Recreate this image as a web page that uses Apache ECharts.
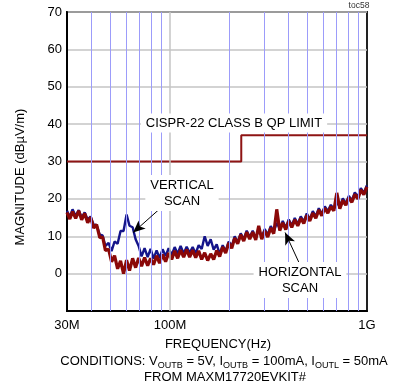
<!DOCTYPE html>
<html>
<head>
<meta charset="utf-8">
<script src="https://cdn.jsdelivr.net/npm/echarts@6/dist/echarts.min.js"></script>
<style>html,body{margin:0;padding:0;background:#fff;}#c{width:394px;height:390px;}</style>
</head>
<body>
<div id="c"></div>
<script>
// ---- data ----
const freqMHz = [30, 31, 32, 33.2, 34.4, 35.6, 36.9, 38.2, 39.5, 41, 42.4, 44, 45.5, 47, 48.8, 50.5, 52.3, 54.2, 56.1, 58.1,
  60.2, 62.3, 64.6, 66.9, 69.3, 71.7, 74.3, 77, 79.7, 82.5, 85.5, 88.5, 91.7, 95, 98.4, 102, 105.6, 109.3, 113.2, 117.3,
  121.5, 125.8, 130.3, 135, 139.8, 144.8, 150, 155.3, 160.9, 166.6, 172.6, 178.7, 185.1, 191.7, 198.6, 205.7, 213, 220.6, 228.5, 236.7,
  245.1, 253.9, 263, 272.4, 282.1, 292.2, 302.6, 313.4, 324.6, 336.2, 348.2, 360.7, 373.6, 386.9, 400.7, 415, 429.9, 445.2, 461.1, 477.6,
  494.7, 512.4, 530.7, 549.6, 569.3, 589.6, 610.7, 632.5, 655.1, 678.5, 702.7, 727.8, 753.8, 780.8, 808.7, 837.6, 867.5, 898.5, 930.6, 963.9, 998];

const verticalScan = [16.8, 15.2, 17.2, 15.4, 17.0, 15.0, 16.4, 14.4, 15.3, 13.0, 13.0, 10.4, 10.2, 7.4, 8.2, 6.0, 8.6, 8.0, 11.4, 11.4,
  15.8, 12.8, 12.4, 9.2, 7.4, 4.6, 6.8, 4.4, 6.6, 4.0, 6.2, 4.2, 6.5, 4.7, 6.8, 5.0, 7.1, 5.3, 7.4, 5.4,
  7.2, 5.6, 7.1, 5.4, 7.6, 6.6, 10.0, 7.4, 9.2, 6.4, 7.8, 5.2, 7.6, 6.0, 8.6, 7.3, 10.0, 8.4, 10.8, 9.2,
  11.5, 9.8, 11.5, 9.5, 11.8, 9.8, 11.9, 10.4, 12.7, 11.2, 13.6, 12.0, 14.1, 12.3, 14.5, 12.9, 14.9, 13.3, 15.3, 13.9,
  16.1, 14.6, 16.7, 15.3, 17.5, 16.0, 18.0, 16.7, 18.4, 17.3, 19.1, 17.9, 20.1, 18.8, 20.8, 19.6, 21.7, 20.5, 22.9, 21.6, 23.6];

const horizontalScan = [16.4, 14.6, 16.6, 14.8, 16.8, 14.4, 16.1, 13.6, 15.1, 12.2, 13.1, 9.6, 9.8, 6.2, 6.5, 3.2, 4.8, 1.3, 3.4, 0.0,
  3.6, 0.8, 4.1, 1.6, 4.2, 2.0, 4.3, 2.1, 4.1, 2.4, 4.8, 2.8, 5.1, 3.2, 5.5, 3.8, 6.1, 4.1, 6.3, 4.4,
  6.4, 4.4, 6.3, 4.3, 6.1, 3.8, 5.6, 3.5, 5.3, 3.8, 6.2, 4.6, 7.1, 5.5, 8.2, 6.8, 9.5, 8.0, 10.4, 8.7,
  11.1, 9.2, 11.1, 9.0, 12.8, 9.2, 11.4, 9.8, 12.2, 10.7, 17.2, 11.5, 13.6, 11.8, 14.0, 12.4, 14.4, 12.8, 14.8, 13.4,
  15.6, 14.1, 16.2, 14.8, 17.0, 15.5, 17.5, 16.2, 17.9, 16.8, 21.6, 17.4, 19.6, 18.3, 20.3, 19.1, 21.2, 20.0, 22.4, 21.1, 23.2];

const limitFreq = [30, 230, 230, 1000];
const limitValues = [30, 30, 37, 37];

const minorGridFreq = [40, 50, 60, 70, 80, 90, 200, 300, 400, 500, 600, 700, 800, 900];
const majorGridFreq = [100];
const xTickLabels = { 30: '30M', 100: '100M', 1000: '1G' };

// ---- chart ----
const FONT = '"Liberation Sans", Arial, sans-serif';
const pairs = (xs, ys) => xs.map((x, i) => [x, ys[i]]);

const chart = echarts.init(document.getElementById('c'), null, { renderer: 'canvas' });
chart.setOption({
  animation: false,
  backgroundColor: '#fff',
  grid: { left: 67, right: 27, top: 12, bottom: 79, show: true, borderColor: '#222', borderWidth: 2, backgroundColor: 'transparent' },
  xAxis: {
    type: 'log', logBase: 10, min: 30, max: 1000,
    axisLine: { show: true, onZero: false, lineStyle: { color: '#000', width: 2 } },
    axisTick: { show: false },
    splitLine: { show: false },
    minorSplitLine: { show: false },
    axisLabel: {
      fontFamily: FONT, fontSize: 13, color: '#000', margin: 8,
      showMinLabel: true, showMaxLabel: true,
      formatter: v => xTickLabels[Math.round(v)] || ''
    }
  },
  yAxis: {
    type: 'value', min: -10, max: 70, interval: 10,
    axisLine: { show: true, onZero: false, lineStyle: { color: '#000', width: 2 } },
    axisTick: { show: false },
    splitLine: { show: true, lineStyle: { color: '#c4c4c4', width: 1.5 } },
    axisLabel: { fontFamily: FONT, fontSize: 13, color: '#000', margin: 5, formatter: v => (v < 0 ? '' : String(v)) }
  },
  series: [
    {
      type: 'line', data: [], z: 1, silent: true,
      markLine: {
        silent: true, symbol: 'none', label: { show: false },
        data: minorGridFreq.map(f => ({ xAxis: f, lineStyle: { color: '#9c9cfa', width: 1, type: 'solid' } }))
          .concat(majorGridFreq.map(f => ({ xAxis: f, lineStyle: { color: '#c4c4c4', width: 1.5, type: 'solid' } })))
      }
    },
    {
      name: 'VERTICAL', type: 'line', z: 2, data: pairs(freqMHz, verticalScan),
      showSymbol: false, lineStyle: { color: '#14148a', width: 2.4 }
    },
    {
      name: 'HORIZONTAL', type: 'line', z: 3, data: pairs(freqMHz, horizontalScan),
      showSymbol: false, lineStyle: { color: '#8a0808', width: 3.2 }
    },
    {
      name: 'LIMIT', type: 'line', z: 4, data: pairs(limitFreq, limitValues),
      showSymbol: false, lineStyle: { color: '#8e1414', width: 2 }
    },
    {
      type: 'line', data: [], z: 6, silent: true,
      markLine: {
        silent: true, label: { show: false }, symbol: ['none', 'arrow'], symbolSize: [8, 12],
        lineStyle: { color: '#000', width: 1, type: 'solid' },
        data: [
          [{ coord: [89, 17.4] }, { coord: [65, 11] }],
          [{ coord: [452, 2.9] }, { coord: [384, 11] }]
        ]
      }
    }
  ],
  graphic: [
    { type: 'text', z: 50, x: 234, y: 123, style: { text: 'CISPR-22 CLASS B QP LIMIT', font: '13px ' + FONT, fill: '#000', align: 'center', verticalAlign: 'middle', backgroundColor: '#fff', padding: [3, 5] } },
    { type: 'text', z: 50, x: 182, y: 193, style: { text: 'VERTICAL\nSCAN', font: '13px ' + FONT, lineHeight: 16, fill: '#000', align: 'center', verticalAlign: 'middle', backgroundColor: '#fff', padding: [2, 5] } },
    { type: 'text', z: 50, x: 300, y: 280, style: { text: 'HORIZONTAL\nSCAN', font: '13px ' + FONT, lineHeight: 16, fill: '#000', align: 'center', verticalAlign: 'middle', backgroundColor: '#fff', padding: [2, 5] } },
    { type: 'text', z: 50, x: 359, y: 6, style: { text: 'toc58', font: '8.5px ' + FONT, fill: '#333', align: 'center', verticalAlign: 'middle' } },
    { type: 'text', z: 50, x: 20, y: 177, rotation: Math.PI / 2, style: { text: 'MAGNITUDE (dBµV/m)', font: '13px ' + FONT, fill: '#000', align: 'center', verticalAlign: 'middle' } },
    { type: 'text', z: 50, x: 218, y: 344, style: { text: 'FREQUENCY(Hz)', font: '13px ' + FONT, fill: '#000', align: 'center', verticalAlign: 'middle' } },
    { type: 'text', z: 50, x: 224, y: 361, style: {
        text: 'CONDITIONS: V{s|OUTB} = 5V, I{s|OUTB} = 100mA, I{s|OUTL} = 50mA',
        font: '13px ' + FONT, fill: '#000', align: 'center', verticalAlign: 'middle', lineHeight: 18,
        rich: { s: { fontSize: 9, fontFamily: FONT, fill: '#000', verticalAlign: 'bottom' } } } },
    { type: 'text', z: 50, x: 225, y: 377, style: { text: 'FROM MAXM17720EVKIT#', font: '13px ' + FONT, fill: '#000', align: 'center', verticalAlign: 'middle' } }
  ]
});
</script>
</body>
</html>
